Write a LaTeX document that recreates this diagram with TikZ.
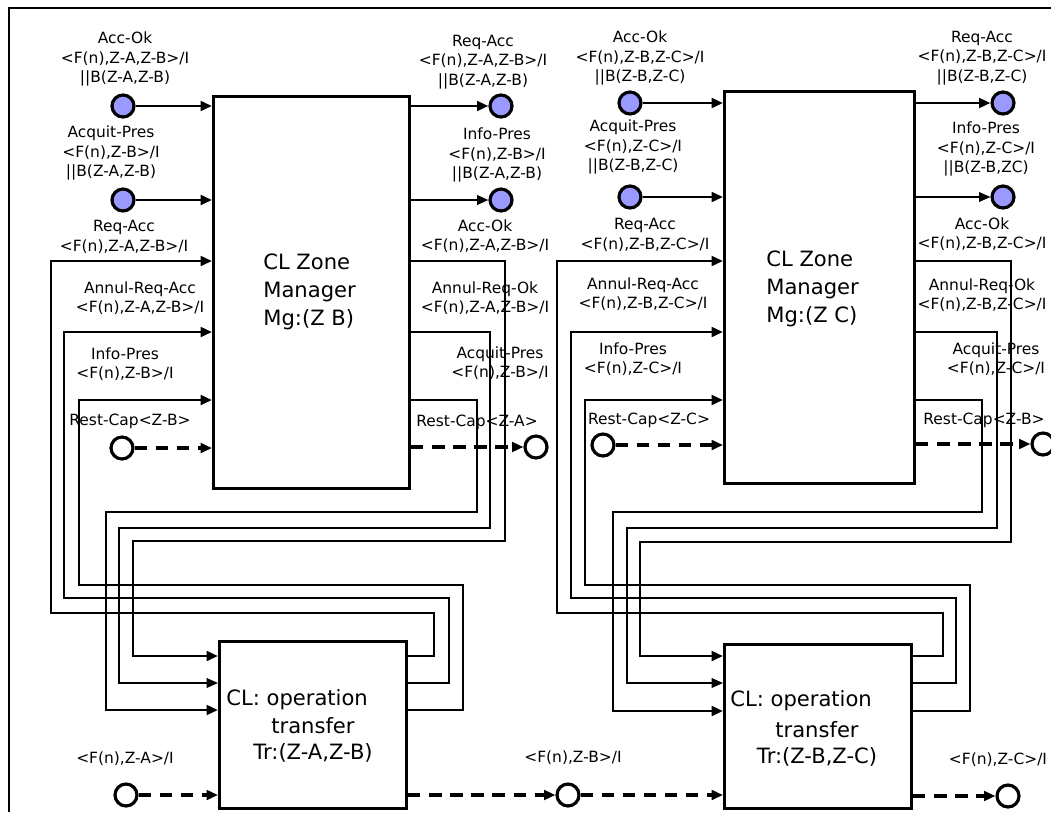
\documentclass[tikz,border=0pt]{standalone}
\usepackage{fontspec}
\setmainfont{DejaVu Sans}
\usetikzlibrary{arrows.meta}
\definecolor{portblue}{RGB}{153,153,255}
\begin{document}
\begin{tikzpicture}[x=0.02cm,y=-0.02cm,
  box/.style={draw, line width=1.8pt, inner sep=0pt, anchor=north west},
  wire/.style={line width=1.6pt, -{Triangle[length=6.5pt,width=5.5pt]}},
  thinwire/.style={line width=1.0pt, -{Triangle[length=6.5pt,width=5.5pt]}},
  dashwire/.style={line width=1.8pt, dash pattern=on 7pt off 5pt, -{Triangle[length=6.5pt,width=5.5pt]}},
  port/.style={circle, draw, line width=1.8pt, fill=portblue, minimum size=0.44cm, inner sep=0pt},
  oport/.style={circle, draw, line width=1.8pt, fill=white, minimum size=0.44cm, inner sep=0pt},
  lbl/.style={font=\fontsize{8.8}{11}\selectfont, align=center, inner sep=0pt},
  boxtxt/.style={font=\fontsize{12}{16}\selectfont, align=left, inner sep=0pt},
  trtxt/.style={font=\fontsize{12}{15}\selectfont, align=center, inner sep=0pt}]
\useasboundingbox (0,0) rectangle (1051,812);
\clip (0,0) rectangle (1051,812);
\fill[white] (0,0) rectangle (1051,812);
% frame
\draw[line width=1.5pt] (9,812) -- (9,8) -- (1051,8);

% boxes
\node[box, minimum width=3.92cm, minimum height=7.84cm] (MgB) at (212,95) {};
\node[box, minimum width=3.74cm, minimum height=3.34cm] (TrAB) at (218,640) {};
\node[box, minimum width=3.80cm, minimum height=7.84cm] (MgC) at (723,90) {};
\node[box, minimum width=3.74cm, minimum height=3.28cm] (TrBC) at (723,643) {};

% box texts
\node[boxtxt, anchor=west] (MgBt) at (263,292) {CL Zone\\Manager\\Mg:(Z B)};
\node[boxtxt, anchor=west] (MgCt) at (766,289) {CL Zone\\Manager\\Mg:(Z C)};
\node[boxtxt, anchor=west] (TrABa) at (226,700) {CL: operation};
\node[trtxt] (TrABb) at (313,740) {transfer\\Tr:(Z-A,Z-B)};
\node[boxtxt, anchor=west] (TrBCa) at (730,701) {CL: operation};
\node[trtxt] (TrBCb) at (817,744) {transfer\\Tr:(Z-B,Z-C)};

% ports, left module
\node[port] (pA1) at (123,106) {};
\node[port] (pA2) at (123,200) {};
\node[port] (pB1) at (501,106) {};
\node[port] (pB2) at (501,200) {};
\node[oport] (oA) at (122,448) {};
\node[oport] (oB) at (536,447) {};
% ports, right module
\node[port] (pC1) at (630,103) {};
\node[port] (pC2) at (630,197) {};
\node[port] (pD1) at (1003,103) {};
\node[port] (pD2) at (1003,197) {};
\node[oport] (oC) at (603,445) {};
\node[oport] (oD) at (1043,444) {};
% bottom ports
\node[oport] (oE) at (126,795) {};
\node[oport] (oF) at (568,795) {};
\node[oport] (oG) at (1008,796) {};

% labels, left module
\node[lbl] (lA1) at (125,59) {Acc-Ok\\<F(n),Z-A,Z-B>/I\\||B(Z-A,Z-B)};
\node[lbl] (lA2) at (111,153) {Acquit-Pres\\<F(n),Z-B>/I\\||B(Z-A,Z-B)};
\node[lbl] (lA3) at (124,237) {Req-Acc\\<F(n),Z-A,Z-B>/I};
\node[lbl] (lA4) at (140,298) {Annul-Req-Acc\\<F(n),Z-A,Z-B>/I};
\node[lbl] (lA5) at (125,364) {Info-Pres\\<F(n),Z-B>/I};
\node[lbl] (lA6) at (130,421) {Rest-Cap<Z-B>};
\node[lbl] (lB1) at (483,62) {Req-Acc\\<F(n),Z-A,Z-B>/I\\||B(Z-A,Z-B)};
\node[lbl] (lB2) at (497,155) {Info-Pres\\<F(n),Z-B>/I\\||B(Z-A,Z-B)};
\node[lbl] (lB3) at (485,236) {Acc-Ok\\<F(n),Z-A,Z-B>/I};
\node[lbl] (lB4) at (485,298) {Annul-Req-Ok\\<F(n),Z-A,Z-B>/I};
\node[lbl] (lB5) at (500,363) {Acquit-Pres\\<F(n),Z-B>/I};
\node[lbl] (lB6) at (477,422) {Rest-Cap<Z-A>};
% labels, right module
\node[lbl] (lC1) at (640,58) {Acc-Ok\\<F(n),Z-B,Z-C>/I\\||B(Z-B,Z-C)};
\node[lbl] (lC2) at (633,147) {Acquit-Pres\\<F(n),Z-C>/I\\||B(Z-B,Z-C)};
\node[lbl] (lC3) at (645,235) {Req-Acc\\<F(n),Z-B,Z-C>/I};
\node[lbl] (lC4) at (643,294) {Annul-Req-Acc\\<F(n),Z-B,Z-C>/I};
\node[lbl] (lC5) at (633,359) {Info-Pres\\<F(n),Z-C>/I};
\node[lbl] (lC6) at (649,420) {Rest-Cap<Z-C>};
\node[lbl] (lD1) at (982,58) {Req-Acc\\<F(n),Z-B,Z-C>/I\\||B(Z-B,Z-C)};
\node[lbl] (lD2) at (986,149) {Info-Pres\\<F(n),Z-C>/I\\||B(Z-B,ZC)};
\node[lbl] (lD3) at (982,234) {Acc-Ok\\<F(n),Z-B,Z-C>/I};
\node[lbl] (lD4) at (982,295) {Annul-Req-Ok\\<F(n),Z-B,Z-C>/I};
\node[lbl] (lD5) at (996,359) {Acquit-Pres\\<F(n),Z-C>/I};
\node[lbl] (lD6) at (984,420) {Rest-Cap<Z-B>};
% bottom labels
\node[lbl] (lE) at (125,759) {<F(n),Z-A>/I};
\node[lbl] (lF) at (573,758) {<F(n),Z-B>/I};
\node[lbl] (lG) at (998,760) {<F(n),Z-C>/I};

% port connectors
\draw[wire] (pA1) -- (pA1 -| MgB.west);
\draw[wire] (pA2) -- (pA2 -| MgB.west);
\draw[wire] (MgB.east |- pB1) -- (pB1);
\draw[thinwire] (MgB.east |- pB2) -- (pB2);
\draw[wire] (pC1) -- (pC1 -| MgC.west);
\draw[wire] (pC2) -- (pC2 -| MgC.west);
\draw[wire] (MgC.east |- pD1) -- (pD1);
\draw[thinwire] (MgC.east |- pD2) -- (pD2);

% dashed connectors
\draw[dashwire] (oA) -- (oA -| MgB.west);
\draw[dashwire] (MgB.east |- oB) -- (oB);
\draw[dashwire] (oC) -- (oC -| MgC.west);
\draw[dashwire] (MgC.east |- oD) -- (oD);
\draw[dashwire] (oE) -- (oE -| TrAB.west);
\draw[dashwire] (TrAB.east |- oF) -- (oF);
\draw[dashwire] (oF) -- (oF -| TrBC.west);
\draw[dashwire] (TrBC.east |- oG) -- (oG);

% wiring, left module
\draw[wire] (TrAB.east |- 0,656) -- (434,656) -- (434,613) -- (51,613) -- (51,261) -- (MgB.west |- 0,261);
\draw[wire] (TrAB.east |- 0,683) -- (449,683) -- (449,598) -- (64,598) -- (64,332) -- (MgB.west |- 0,332);
\draw[wire] (TrAB.east |- 0,710) -- (463,710) -- (463,585) -- (79,585) -- (79,400) -- (MgB.west |- 0,400);
\draw[wire] (MgB.east |- 0,261) -- (505,261) -- (505,541) -- (133,541) -- (133,656) -- (TrAB.west |- 0,656);
\draw[thinwire] (MgB.east |- 0,332) -- (490,332) -- (490,528) -- (119,528) -- (119,683) -- (TrAB.west |- 0,683);
\draw[wire] (MgB.east |- 0,400) -- (477,400) -- (477,512) -- (106,512) -- (106,710) -- (TrAB.west |- 0,710);
% wiring, right module
\draw[wire] (TrBC.east |- 0,656) -- (943,656) -- (943,613) -- (557,613) -- (557,261) -- (MgC.west |- 0,261);
\draw[wire] (TrBC.east |- 0,683) -- (956,683) -- (956,598) -- (571,598) -- (571,332) -- (MgC.west |- 0,332);
\draw[wire] (TrBC.east |- 0,711) -- (970,711) -- (970,585) -- (585,585) -- (585,400) -- (MgC.west |- 0,400);
\draw[wire] (MgC.east |- 0,261) -- (1011,261) -- (1011,542) -- (640,542) -- (640,656) -- (TrBC.west |- 0,656);
\draw[thinwire] (MgC.east |- 0,332) -- (997,332) -- (997,528) -- (627,528) -- (627,683) -- (TrBC.west |- 0,683);
\draw[wire] (MgC.east |- 0,400) -- (982,400) -- (982,512) -- (613,512) -- (613,711) -- (TrBC.west |- 0,711);
\end{tikzpicture}
\end{document}
